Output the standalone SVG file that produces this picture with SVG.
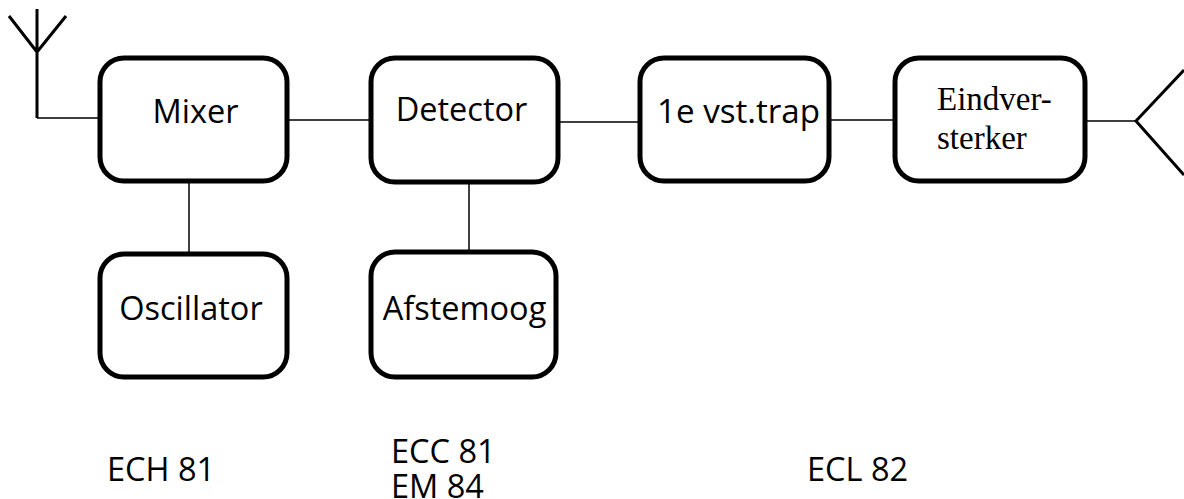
<svg xmlns="http://www.w3.org/2000/svg" width="1184" height="499" viewBox="0 0 1184 499">
<style>
.b{fill:#fff;stroke:#000;stroke-width:5}
.l{fill:none;stroke:#000;stroke-width:1.5}
.h{fill:none;stroke:#000;stroke-width:3}
.t{font-family:"Open Sans","Noto Sans",sans-serif;font-size:32.5px;fill:#000}
.s{font-family:"Liberation Serif",serif;font-size:33px;fill:#000}
</style>
<rect width="1184" height="499" fill="#fff"/>
<g id="connectors">
<path class="h" d="M9 16L37 52L66 16M37 9V118"/>
<path class="l" d="M37 118H100M287 120H371M189 181V254M558 122H640M469 182V252M829 120H895M1085 121H1136"/>
<path class="h" d="M1184 70L1136 121L1184 175"/>
</g>
<g id="mixer"><rect class="b" x="100" y="58" width="187" height="123" rx="24"/><text class="t" x="195.500" y="123" text-anchor="middle">Mixer</text></g>
<g id="detector"><rect class="b" x="371" y="58" width="187" height="124" rx="24"/><text class="t" x="461.500" y="121" text-anchor="middle">Detector</text></g>
<g id="trap"><rect class="b" x="640" y="58" width="189" height="123" rx="24"/><text class="t" x="738.500" y="123" text-anchor="middle" textLength="163" lengthAdjust="spacingAndGlyphs">1e vst.trap</text></g>
<g id="eind"><rect class="b" x="895" y="58" width="190" height="123" rx="24"/><text class="s" x="937" y="110">Eindver-</text><text class="s" x="937" y="149">sterker</text></g>
<g id="osc"><rect class="b" x="100" y="254" width="187" height="123" rx="24"/><text class="t" x="191" y="320" text-anchor="middle">Oscillator</text></g>
<g id="afst"><rect class="b" x="371" y="252" width="185" height="125" rx="24"/><text class="t" x="464.500" y="320" text-anchor="middle">Afstemoog</text></g>
<g id="labels">
<text class="t" x="107" y="481">ECH 81</text>
<text class="t" x="391" y="463">ECC 81</text>
<text class="t" x="391" y="498">EM 84</text>
<text class="t" x="807" y="481">ECL 82</text>
</g>
</svg>
